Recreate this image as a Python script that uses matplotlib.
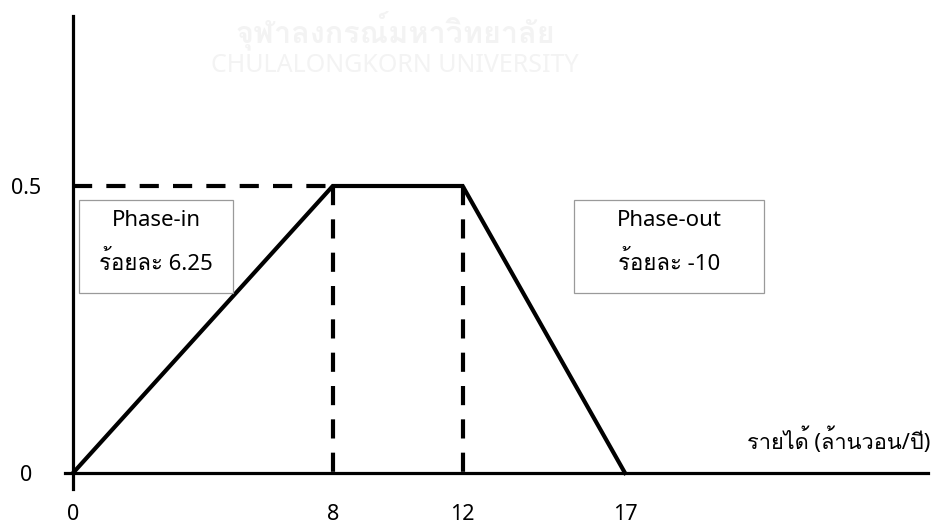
import numpy as np
import matplotlib
matplotlib.use('Agg')
import matplotlib.pyplot as plt
from matplotlib import font_manager
from matplotlib.ft2font import FT2Font
from matplotlib.patches import Rectangle


# หา font ที่มีตัวอักษรไทย
def thai_family():
    for f in font_manager.fontManager.ttflist:
        try:
            if ord('ร') in FT2Font(f.fname).get_charmap():
                return f.name
        except Exception:
            pass
    return None


th = thai_family()
families = ['Noto Sans'] + ([th] if th else [])
plt.rcParams['font.family'] = families

# ช่วงรายได้ / อัตรา
x_pts = [0, 8, 12, 17]
y_pts = [0, 0.5, 0.5, 0]
xtick_vals = [0, 8, 12, 17]
ytick_vals = [0, 0.5]
ytick_labels = ['0', '0.5']
rate_in = 6.25
rate_out = -10
xlabel = 'รายได้ (ล้านวอน/ปี)'

W, H = 933, 524
fig = plt.figure(figsize=(W / 100, H / 100), dpi=100)
ax = fig.add_axes([0, 0, 1, 1])

# สเกลแกน: 0 อยู่ที่ px 73, 17 ที่ px 625 ; y=0 ที่ px 473, 0.5 ที่ px 186
sx = (625 - 73) / 17
sy = (473 - 186) / 0.5
ax.set_xlim(-73 / sx, (W - 73) / sx)
ax.set_ylim(-(H - 473) / sy, 473 / sy)

for s in ['top', 'right']:
    ax.spines[s].set_visible(False)
ax.spines['left'].set_position(('data', 0))
ax.spines['bottom'].set_position(('data', 0))
ax.spines['left'].set_bounds(-16 / sy, 457 / sy)
ax.spines['bottom'].set_bounds(-8 / sx, 855 / sx)
ax.spines['left'].set_linewidth(2.3)
ax.spines['bottom'].set_linewidth(2.3)

ax.set_xticks(xtick_vals)
ax.set_xticklabels([str(v) for v in xtick_vals])
ax.set_yticks(ytick_vals)
ax.set_yticklabels(ytick_labels)
ax.tick_params(axis='x', length=0, pad=22, labelsize=15.5)
ax.tick_params(axis='y', length=0, pad=34, labelsize=15.5)
for t in ax.get_yticklabels():
    t.set_horizontalalignment('center')
ax.set_xticks([x_pts[-1]], minor=True)
ax.tick_params(axis='x', which='minor', length=11, width=0.8, color='#555555', direction='out')
ax.tick_params(axis='y', which='minor', length=0)

# เส้นประ
ax.plot([x_pts[0], x_pts[1]], [y_pts[1], y_pts[1]], color='black', lw=3, dashes=(4.6, 3.4), zorder=2)
for xv in x_pts[1:3]:
    ax.plot([xv, xv], [y_pts[1], 0], color='black', lw=3, dashes=(4.6, 3.4), zorder=2)

# รูปสี่เหลี่ยมคางหมู
ax.plot(x_pts, y_pts, color='black', lw=3, solid_joinstyle='miter', zorder=3)

# กล่องข้อความ
for x0, w, txt in [(79, 154, f'Phase-in\nร้อยละ {rate_in}'),
                   (574, 190, f'Phase-out\nร้อยละ {rate_out}')]:
    ax.add_patch(Rectangle((x0 / W, 1 - 293 / H), w / W, 93 / H, transform=ax.transAxes,
                           facecolor='white', edgecolor='#9a9a9a', lw=0.9, zorder=4))
    l1, l2 = txt.split('\n')
    ax.text((x0 + w / 2) / W, 1 - 221 / H, l1, transform=ax.transAxes,
            ha='center', va='center', fontsize=16, zorder=5)
    ax.text((x0 + w / 2) / W, 1 - 263 / H, l2, transform=ax.transAxes,
            ha='center', va='center', fontsize=16, zorder=5)

ax.text(839 / W, 1 - 441 / H, xlabel, transform=ax.transAxes,
        ha='center', va='center', fontsize=15.7)

# ลายน้ำ
ax.text(395 / W, 1 - 30 / H, 'จุฬาลงกรณ์มหาวิทยาลัย', transform=ax.transAxes,
        ha='center', va='center', fontsize=22, fontweight='bold', color='#f3f3f3', zorder=0)
ax.text(395 / W, 1 - 66 / H, 'CHULALONGKORN UNIVERSITY', transform=ax.transAxes,
        ha='center', va='center', fontsize=18, fontweight='bold', color='#f3f3f3', zorder=0)

fig.savefig('out.png', dpi=100)
